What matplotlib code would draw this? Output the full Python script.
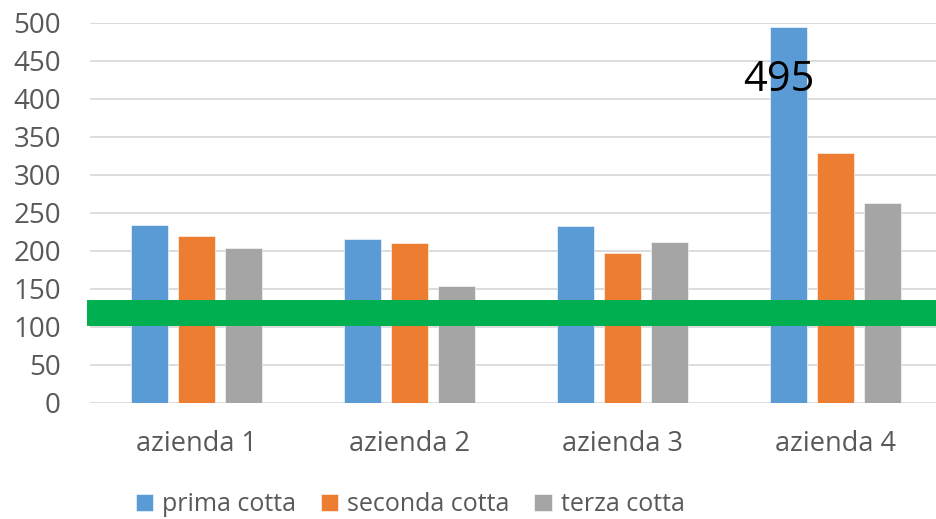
import numpy as np
import matplotlib.pyplot as plt

# production per company, three batches
aziende = ["azienda 1", "azienda 2", "azienda 3", "azienda 4"]
prima = [234, 216, 232, 495]
seconda = [220, 210, 197, 328]
terza = [203, 154, 212, 263]
soglia = 118
yticks = list(range(0, 501, 50))

plt.rcParams['font.family'] = ['Open Sans', 'DejaVu Sans']

fig = plt.figure(figsize=(9.36, 5.19), dpi=100)
ax = fig.add_axes([90 / 936, 116.3 / 519, 852 / 936, 380 / 519])

x = np.arange(len(aziende))
w = 0.174
step = 0.22
colors = ["#5B9BD5", "#ED7D31", "#A5A5A5"]
labels = ["prima cotta", "seconda cotta", "terza cotta"]
series = [prima, seconda, terza]

bars = []
for i, (vals, c, lab) in enumerate(zip(series, colors, labels)):
    b = ax.bar(x + (i - 1) * step, vals, width=w, color=c, label=lab,
               edgecolor="white", linewidth=0.4, zorder=2)
    bars.append(b)

# value label on the tallest bar
ax.text(x[3] - step - 0.045, 425, str(prima[3]), ha="center", va="center",
        fontsize=30, color="black", zorder=4)

# threshold line
ax.plot([-0.515, 3.6], [soglia, soglia], color="#00B050", lw=18.7,
        solid_capstyle="butt", clip_on=False, zorder=3)

ax.set_xlim(-0.5, 3.5)
ax.set_ylim(0, 500)
ax.set_yticks(yticks)
ax.set_xticks(x)
ax.set_xticklabels(aziende)
ax.yaxis.grid(True, color="#D9D9D9", lw=1.3, zorder=0)
ax.set_axisbelow(True)
for s in ax.spines.values():
    s.set_visible(False)
ax.tick_params(axis="both", length=0, colors="#595959")
ax.tick_params(axis="y", pad=21, labelsize=20)
ax.tick_params(axis="x", pad=20, labelsize=19.5)

fig.legend(handles=bars, labels=labels, loc="lower center",
           bbox_to_anchor=(410 / 936, -0.04), ncol=3, frameon=False,
           fontsize=18, handlelength=0.7, handleheight=0.7,
           handletextpad=0.35, columnspacing=1.0, labelcolor="#595959")

fig.savefig("out.png", dpi=100)
